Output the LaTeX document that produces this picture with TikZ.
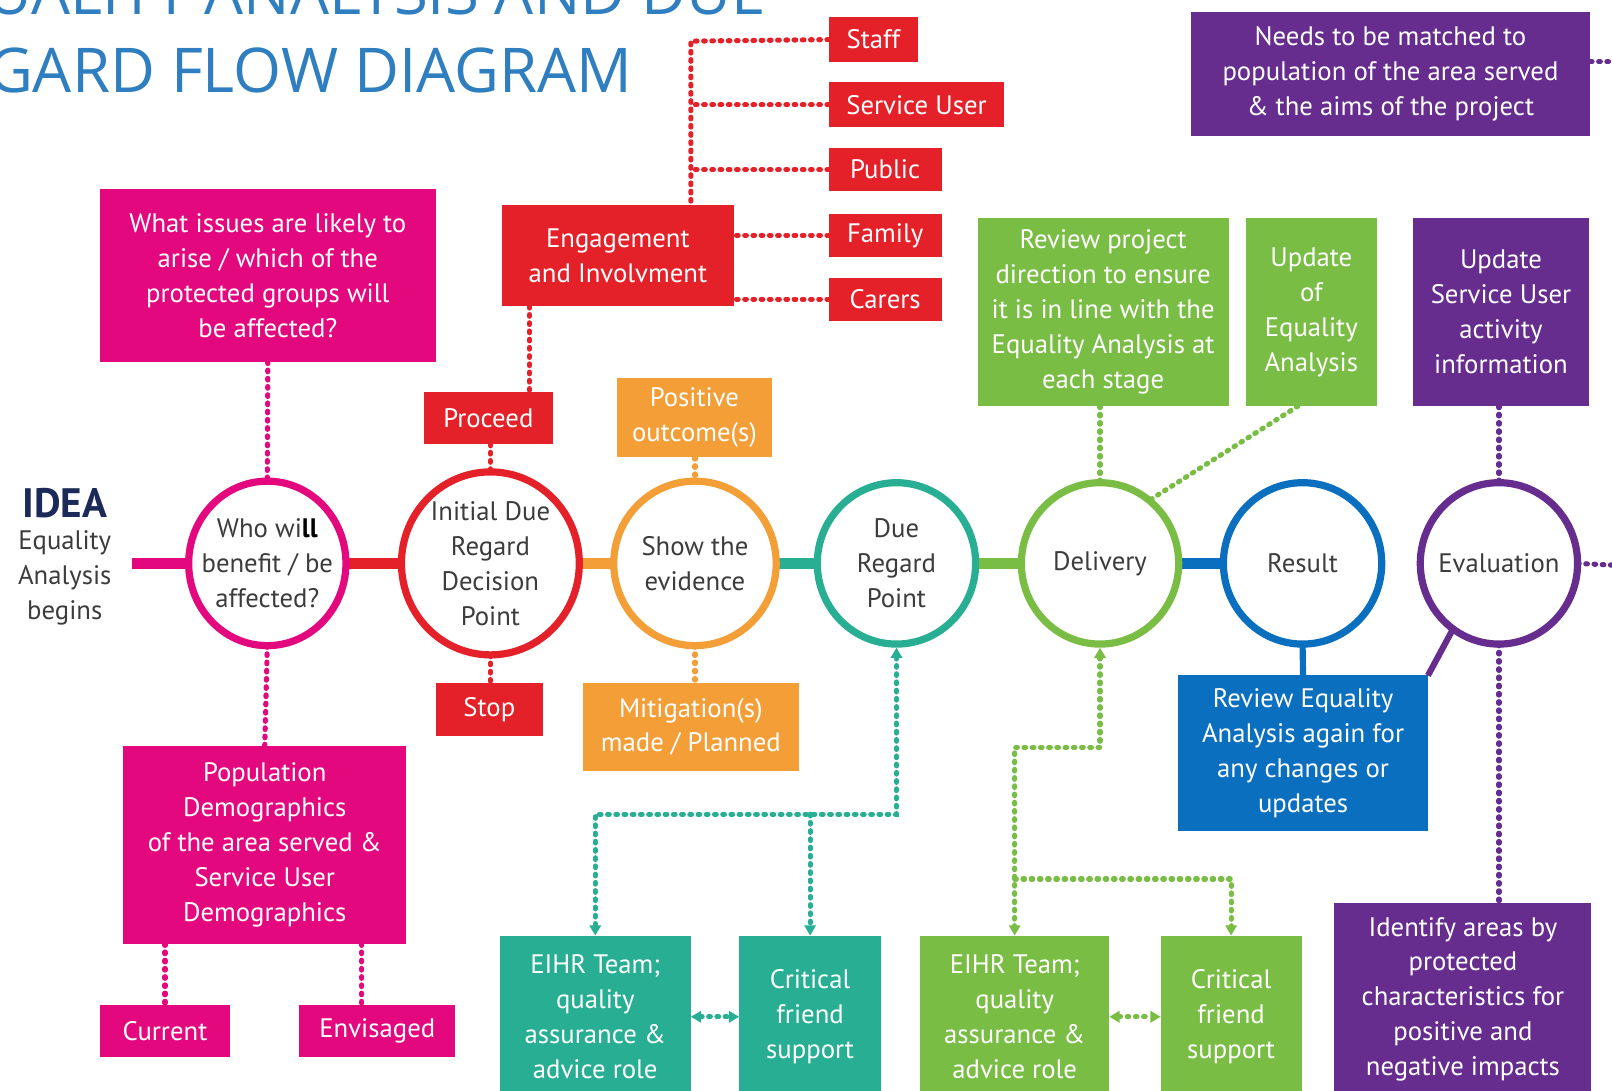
\documentclass[tikz,border=0pt]{standalone}
\usepackage{fontspec}
\setmainfont{PT Sans}
\newfontfamily\titlefont{Open Sans}
\usetikzlibrary{shapes.geometric,arrows.meta,backgrounds}
\definecolor{mag}{HTML}{E4087F}
\definecolor{redc}{HTML}{E42128}
\definecolor{orng}{HTML}{F49E38}
\definecolor{tealc}{HTML}{27AE93}
\definecolor{grn}{HTML}{79BD45}
\definecolor{blu}{HTML}{0B6FC0}
\definecolor{purp}{HTML}{662D8F}
\definecolor{titleblue}{HTML}{2F7EC0}
\definecolor{navy}{HTML}{1B2A59}
\definecolor{txtgrey}{HTML}{3C3C3C}
\newcommand\boxfont{\fontsize{26}{34}\selectfont}
\begin{document}
\begin{tikzpicture}[x=1pt,y=-1pt,
  sz/.style 2 args={minimum width=#1pt,minimum height=#2pt},
  box/.style={rectangle,inner sep=0pt,outer sep=0pt,text=white,align=center,font=\boxfont},
  circ/.style={ellipse,draw,line width=7pt,fill=white,inner sep=0pt,outer sep=0pt},
  ctext/.style={align=center,text=txtgrey,font=\boxfont,inner sep=0pt},
  dotl/.style={line width=5pt,dash pattern=on 1.6pt off 6.4pt,line cap=round},
  link/.style={line width=10pt},
  >={Triangle[length=10pt,width=11pt]}]
\useasboundingbox (0,0) rectangle (1568,1061);
\clip (0,0) rectangle (1568,1061);

% title
\node[anchor=base east,inner sep=0pt,text=titleblue,font={\titlefont\fontsize{60}{60}\selectfont}] (t1) at (745,14) {EQUALITY ANALYSIS AND DUE};
\node[anchor=base east,inner sep=0pt,text=titleblue,font={\titlefont\fontsize{60}{60}\selectfont}] (t2) at (615,90) {REGARD FLOW DIAGRAM};

% IDEA
\node[inner sep=0pt,text=navy,font={\fontsize{40}{40}\selectfont\bfseries}] (ideaT) at (63,489) {IDEA};
\node[ctext] (ideaS) at (63,562) {Equality\\Analysis\\begins};
\coordinate (start) at (128,548);

% circles
\node[circ,draw=mag,sz={153}{160}] (c1) at (260,548) {};
\node[circ,draw=redc,sz={173}{178}] (c2) at (477,548) {};
\node[circ,draw=orng,sz={158}{160}] (c3) at (676,548) {};
\node[circ,draw=tealc,sz={154}{157}] (c4) at (872,548) {};
\node[circ,draw=grn,sz={153}{157}] (c5) at (1070,548) {};
\node[circ,draw=blu,sz={154}{157}] (c6) at (1267,548) {};
\node[circ,draw=purp,sz={153}{157}] (c7) at (1458,548) {};
\node[ctext] (c1t) at (c1) {Who wi{\color{black}\bfseries ll}\\benefit / be\\affected?};
\node[ctext] (c2t) at (c2) {Initial Due\\Regard\\Decision\\Point};
\node[ctext] (c3t) at (c3) {Show the\\evidence};
\node[ctext] (c4t) at (c4) {Due\\Regard\\Point};
\node[ctext] (c5t) at (c5) {Delivery};
\node[ctext] (c6t) at (c6) {Result};
\node[ctext] (c7t) at (c7) {Evaluation};

\begin{pgfonlayer}{background}
\draw[link,mag] (start) -- (c1.west);
\draw[link,redc] (c1.east) -- (c2.west);
\draw[link,orng] (c2.east) -- (c3.west);
\draw[link,tealc] (c3.east) -- (c4.west);
\draw[link,grn] (c4.east) -- (c5.west);
\draw[link,blu] (c5.east) -- (c6.west);
\end{pgfonlayer}

% magenta boxes
\node[box,fill=mag,sz={327}{168}] (what) at (260.5,268) {What issues are likely to\\arise / which of the\\protected groups will\\be affected?};
\node[box,fill=mag,sz={275}{192}] (pop) at (257.5,822) {Population\\Demographics\\of the area served \&\\Service User\\Demographics};
\node[box,fill=mag,sz={127}{50}] (cur) at (160.5,1003) {Current};
\node[box,fill=mag,sz={152}{50}] (env) at (367,1003) {Envisaged};

% red boxes
\node[box,fill=redc,sz={226}{99}] (eng) at (601,248.5) {Engagement\\and Involvment};
\node[box,fill=redc,sz={87}{43}] (staff) at (849.5,38.5) {Staff};
\node[box,fill=redc,sz={171}{44}] (svc) at (891.5,102) {Service User};
\node[box,fill=redc,sz={110}{42}] (pub) at (861,165) {Public};
\node[box,fill=redc,sz={110}{42}] (fam) at (861,229) {Family};
\node[box,fill=redc,sz={110}{42}] (car) at (861,291) {Carers};
\node[box,fill=redc,sz={126}{51}] (proc) at (475,406.5) {Proceed};
\node[box,fill=redc,sz={104}{52}] (stop) at (476,690) {Stop};

% orange boxes
\node[box,fill=orng,sz={151}{77}] (pos) at (675.5,406.5) {Positive\\outcome(s)};
\node[box,fill=orng,sz={210}{86}] (mit) at (672,707) {Mitigation(s)\\made / Planned};

% teal boxes
\node[box,fill=tealc,sz={186}{158}] (eihrA) at (579,989) {EIHR Team;\\quality\\assurance \&\\advice role};
\node[box,fill=tealc,sz={138}{158}] (critA) at (788,989) {Critical\\friend\\support};

% green boxes
\node[box,fill=grn,sz={244}{183}] (rev) at (1073,303.5) {Review project\\direction to ensure\\it is in line with the\\Equality Analysis at\\each stage};
\node[box,fill=grn,sz={127}{183}] (updEA) at (1275.5,303.5) {Update\\of\\Equality\\Analysis};
\node[box,fill=grn,sz={184}{158}] (eihrB) at (987,989) {EIHR Team;\\quality\\assurance \&\\advice role};
\node[box,fill=grn,sz={137}{158}] (critB) at (1197.5,989) {Critical\\friend\\support};

% blue box
\node[box,fill=blu,sz={243}{151}] (revEA) at (1267.5,732.5) {Review Equality\\Analysis again for\\any changes or\\updates};

% purple boxes
\node[box,fill=purp,sz={389}{120}] (needs) at (1352.5,72) {Needs to be matched to\\population of the area served\\\& the aims of the project};
\node[box,fill=purp,sz={172}{183}] (updSU) at (1460,303.5) {Update\\Service User\\activity\\information};
\node[box,fill=purp,sz={250}{188}] (ident) at (1423,972) {Identify areas by\\protected\\characteristics for\\positive and\\negative impacts};

% coordinates
\coordinate (rtop) at (672,40);
\coordinate (pe) at (515,381);
\coordinate (envc) at (352,978);
\coordinate (tj) at (872,792);
\coordinate (gj) at (987,727);
\coordinate (gj2) at (987,855);
\coordinate (evalR) at (1575,550);
\coordinate (needsR) at (1575,60);

% magenta dotted
\draw[dotl,mag] (what.south) -- (c1.north);
\draw[dotl,mag] (c1.south) -- (pop.north);
\draw[dotl,mag] (cur.north |- pop.south) -- (cur.north);
\draw[dotl,mag] (envc |- pop.south) -- (envc);

% red dotted
\draw[dotl,redc] (staff.west) -- (rtop) -- (eng.north -| rtop);
\draw[dotl,redc] (svc.west) -- (svc.west -| rtop);
\draw[dotl,redc] (pub.west) -- (pub.west -| rtop);
\draw[dotl,redc] (fam.west) -- (fam.west -| eng.east);
\draw[dotl,redc] (car.west) -- (car.west -| eng.east);
\draw[dotl,redc] (pe |- eng.south) -- (pe);
\draw[dotl,redc] (c2.north |- proc.south) -- (c2.north);
\draw[dotl,redc] (c2.south) -- (c2.south |- stop.north);

% orange dotted
\draw[dotl,orng] (c3.north |- pos.south) -- (c3.north);
\draw[dotl,orng] (c3.south) -- (c3.south |- mit.north);

% teal dotted
\draw[dotl,tealc,<->,shorten <=3.5pt] (c4.south) -- (c4.south |- tj) -| (eihrA.north);
\draw[dotl,tealc,->] (critA.north |- tj) -- (critA.north);
\draw[dotl,tealc,<->] (eihrA) -- (critA);

% green dotted
\draw[dotl,grn] (c5.north |- rev.south) -- (c5.north);
\draw[dotl,grn] ([xshift=-13pt]updEA.south) -- (c5.52);
\draw[dotl,grn,<->,shorten <=3.5pt] (c5.south) -- (c5.south |- gj) -| (eihrB.north);
\draw[dotl,grn,->] (gj2) -| (critB.north);
\draw[dotl,grn,<->] (eihrB) -- (critB);

% blue / purple solid
\draw[line width=6pt,blu] (c6.south) -- (revEA.north);
\draw[line width=6pt,purp] (c7.235) -- (revEA.north east);

% purple dotted
\draw[dotl,purp] (c7.north |- updSU.south) -- (c7.north);
\draw[dotl,purp] (c7.south) -- (c7.south |- ident.north);
\draw[dotl,purp] (c7.east) -- (evalR);
\draw[dotl,purp] (needs.east |- needsR) -- (needsR);
\end{tikzpicture}
\end{document}
